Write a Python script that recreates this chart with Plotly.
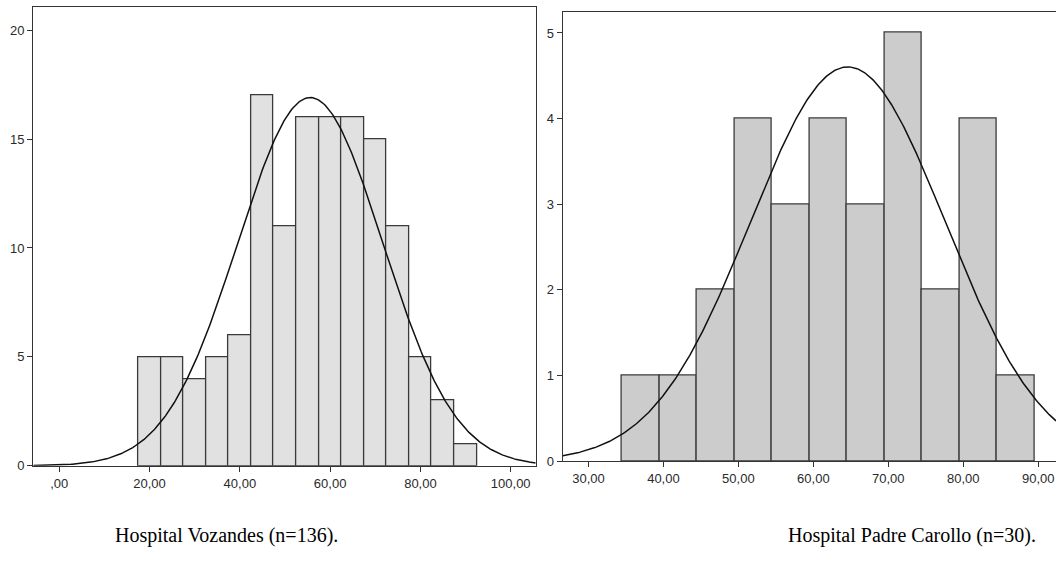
import numpy as np
import plotly.graph_objects as go

# ---- Data ----
# Hospital Vozandes (n=136)
voz_bin_centers = [20, 25, 30, 35, 40, 45, 50, 55, 60, 65, 70, 75, 80, 85, 90]
voz_counts = [5, 5, 4, 5, 6, 17, 11, 16, 16, 16, 15, 11, 5, 3, 1]
voz_mean = 55.6
voz_sd = 16.05
voz_n = 136
voz_xticks = [0, 20, 40, 60, 80, 100]
voz_xlabels = [",00", "20,00", "40,00", "60,00", "80,00", "100,00"]
voz_yticks = [0, 5, 10, 15, 20]

# Hospital Padre Carollo (n=30)
pc_bin_centers = [37, 42, 47, 52, 57, 62, 67, 72, 77, 82, 87]
pc_counts = [1, 1, 2, 4, 3, 4, 3, 5, 2, 4, 1]
pc_mean = 64.6
pc_sd = 13.0
pc_n = 30
pc_xticks = [30, 40, 50, 60, 70, 80, 90]
pc_xlabels = ["30,00", "40,00", "50,00", "60,00", "70,00", "80,00", "90,00"]
pc_yticks = [0, 1, 2, 3, 4, 5]

bin_width = 5
captions = ["Hospital Vozandes (n=136).", "Hospital Padre Carollo (n=30)."]

# ---- Figure ----
fig = go.Figure()

def normal_curve(mean, sd, n, lo, hi):
    xs = np.linspace(lo, hi, 400)
    ys = n * bin_width / (sd * np.sqrt(2 * np.pi)) * np.exp(-0.5 * ((xs - mean) / sd) ** 2)
    return xs, ys

voz_range = [-5.76, 105.54]
pc_range = [26.57, 92.37]

fig.add_trace(go.Bar(
    x=voz_bin_centers, y=voz_counts, width=bin_width,
    marker=dict(color="#e1e1e1", line=dict(color="#3a3a3a", width=1.3)),
    xaxis="x", yaxis="y", showlegend=False,
))
vx, vy = normal_curve(voz_mean, voz_sd, voz_n, voz_range[0], voz_range[1])
fig.add_trace(go.Scatter(x=vx, y=vy, mode="lines", line=dict(color="#111111", width=1.5),
                         xaxis="x", yaxis="y", showlegend=False))

fig.add_trace(go.Bar(
    x=pc_bin_centers, y=pc_counts, width=bin_width,
    marker=dict(color="#cccccc", line=dict(color="#3a3a3a", width=1.3)),
    xaxis="x2", yaxis="y2", showlegend=False,
))
px_, py_ = normal_curve(pc_mean, pc_sd, pc_n, pc_range[0], pc_range[1])
fig.add_trace(go.Scatter(x=px_, y=py_, mode="lines", line=dict(color="#111111", width=1.5),
                         xaxis="x2", yaxis="y2", showlegend=False))

tick_font = dict(family="Liberation Sans, Arial, sans-serif", size=13, color="#2a2a2a")
axis_common = dict(showgrid=False, zeroline=False, showline=True, linecolor="#333333",
                   linewidth=1.3, ticks="outside", ticklen=5, tickcolor="#333333",
                   tickwidth=1.3, tickfont=tick_font, fixedrange=True)

cap_font = dict(family="Liberation Serif, Times New Roman, serif", size=20, color="black")

fig.update_layout(
    width=1056, height=569,
    margin=dict(l=0, r=0, t=0, b=0),
    paper_bgcolor="white", plot_bgcolor="white",
    bargap=0,
    hovermode=False,
    xaxis=dict(domain=[0.0315, 0.5073], range=voz_range, tickmode="array",
               tickvals=voz_xticks, ticktext=voz_xlabels, mirror=True, anchor="y", **axis_common),
    yaxis=dict(domain=[0.1696, 0.9872], range=[0, 21.05], tickmode="array",
               tickvals=voz_yticks, mirror=True, anchor="x", ticklabelstandoff=0, **axis_common),
    xaxis2=dict(domain=[0.5329, 1.0], range=pc_range, tickmode="array",
                tickvals=pc_xticks, ticktext=pc_xlabels, mirror=True, anchor="y2", **axis_common),
    yaxis2=dict(domain=[0.178, 0.9794], range=[0, 5.25], tickmode="array",
                tickvals=pc_yticks, mirror=False, anchor="x2", ticklabelstandoff=0, **axis_common),
    annotations=[
        dict(text=captions[0], x=226 / 1056, y=1 - 543 / 569, xref="paper", yref="paper",
             showarrow=False, xanchor="center", yanchor="middle", font=cap_font),
        dict(text=captions[1], x=912 / 1056, y=1 - 543 / 569, xref="paper", yref="paper",
             showarrow=False, xanchor="center", yanchor="middle", font=cap_font),
    ],
)

fig.write_html(
    "out.html",
    config={"displayModeBar": False},
    post_script="document.body.style.margin='0';document.body.style.overflow='hidden';",
)
